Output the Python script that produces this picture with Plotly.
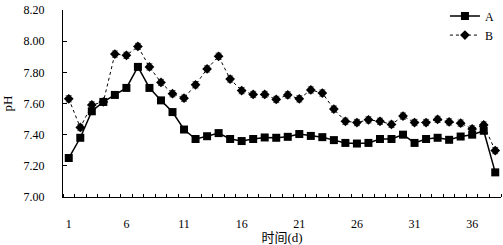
import plotly.graph_objects as go

days = list(range(1, 39))
ph_a = [7.25, 7.38, 7.55, 7.61, 7.655, 7.70, 7.835, 7.70, 7.62, 7.545, 7.433, 7.372,
        7.39, 7.41, 7.372, 7.359, 7.372, 7.382, 7.38, 7.386, 7.404, 7.392, 7.384, 7.365,
        7.347, 7.343, 7.347, 7.372, 7.372, 7.40, 7.347, 7.372, 7.38, 7.367, 7.388, 7.40,
        7.425, 7.158]
ph_b = [7.63, 7.446, 7.591, 7.61, 7.917, 7.909, 7.966, 7.835, 7.735, 7.663, 7.634, 7.72,
        7.822, 7.903, 7.757, 7.683, 7.658, 7.658, 7.626, 7.655, 7.63, 7.687, 7.667, 7.564,
        7.486, 7.478, 7.495, 7.486, 7.466, 7.519, 7.478, 7.478, 7.498, 7.482, 7.474, 7.437,
        7.462, 7.298]
err_a = [0.012] * 38
err_b = [0.02] * 38
tick_days = [1, 6, 11, 16, 21, 26, 31, 36]
ytick_vals = [7.0, 7.2, 7.4, 7.6, 7.8, 8.0, 8.2]

font_serif = "Liberation Serif, Times New Roman, Noto Sans CJK SC, serif"

fig = go.Figure()
fig.add_trace(go.Scatter(
    x=days, y=ph_b, name="B", mode="lines+markers",
    line=dict(color="black", width=1, dash="dot"),
    marker=dict(symbol="diamond", size=7.5, color="black"),
    error_y=dict(type="data", array=err_b, color="#555", thickness=1, width=3),
))
fig.add_trace(go.Scatter(
    x=days, y=ph_a, name="A", mode="lines+markers",
    line=dict(color="black", width=1.5),
    marker=dict(symbol="square", size=8, color="black"),
    error_y=dict(type="data", array=err_a, color="#555", thickness=1, width=3),
))

fig.update_layout(
    width=503, height=245,
    margin=dict(l=57, r=2, t=5, b=43),
    paper_bgcolor="white", plot_bgcolor="white",
    font=dict(family=font_serif, size=12, color="black"),
    showlegend=True,
    legend=dict(x=0.872, y=1.045, xanchor="left", yanchor="top",
                traceorder="reversed", bgcolor="rgba(0,0,0,0)",
                font=dict(size=12), itemwidth=30, tracegroupgap=0),
    xaxis=dict(
        range=[0.5, 38.5], showgrid=False, zeroline=False,
        showline=True, linecolor="black", linewidth=1,
        tickmode="array", tickvals=tick_days, ticktext=[str(d) for d in tick_days],
        ticks="", ticklabelstandoff=16,
        minor=dict(tickmode="linear", tick0=0.5, dtick=1, ticks="inside",
                   ticklen=3, tickcolor="black", showgrid=False),
        title=dict(text="时间(d)", font=dict(size=13), standoff=2),
    ),
    yaxis=dict(
        range=[6.9999, 8.2001], showgrid=False, zeroline=False,
        showline=True, linecolor="black", linewidth=1,
        tickmode="array", tickvals=ytick_vals,
        ticktext=[f"{v:.2f}" for v in ytick_vals],
        ticks="inside", ticklen=4, tickcolor="black",
        ticklabelstandoff=15, ticklabeloverflow="allow",
        title=dict(text="pH", font=dict(size=13), standoff=12),
    ),
)

fig.write_html("out.html", config={"displayModeBar": False},
               post_script="document.body.style.margin='0px';")
